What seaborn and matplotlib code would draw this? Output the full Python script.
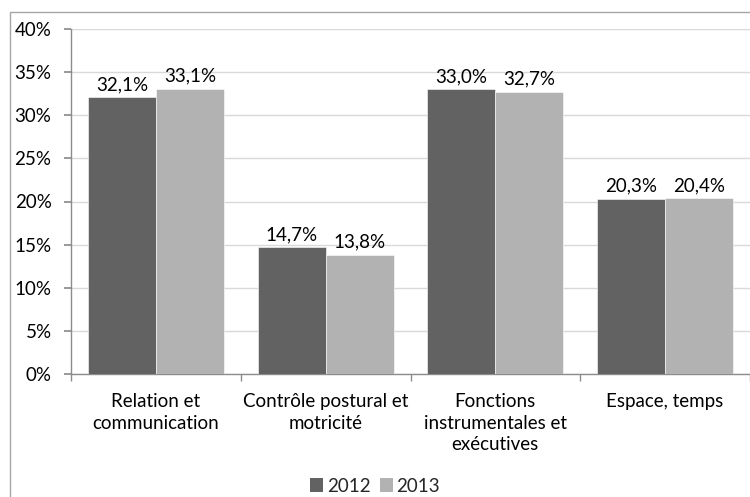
import matplotlib
matplotlib.use("Agg")
import matplotlib.pyplot as plt
import matplotlib.patches as mpatches
from matplotlib.ticker import FixedLocator, PercentFormatter
import seaborn as sns
import pandas as pd

# Data
categories = [
    "Relation et\ncommunication",
    "Contrôle postural et\nmotricité",
    "Fonctions\ninstrumentales et\nexécutives",
    "Espace, temps",
]
years = ["2012", "2013"]
values_2012 = [32.1, 14.7, 33.0, 20.3]
values_2013 = [33.1, 13.8, 32.7, 20.4]
colors = {"2012": "#626262", "2013": "#b2b2b2"}

df = pd.DataFrame({
    "categorie": categories * 2,
    "annee": ["2012"] * 4 + ["2013"] * 4,
    "valeur": values_2012 + values_2013,
})

sns.set_theme(style="white")
plt.rcParams["font.family"] = ["Lato", "DejaVu Sans"]
FS = 13.5

fig = plt.figure(figsize=(7.5, 4.97), dpi=100)
ax = fig.add_axes([71 / 750, 1 - 374 / 497, 1 - 71 / 750, (374 - 29) / 497])

sns.barplot(data=df, x="categorie", y="valeur", hue="annee", hue_order=years,
            palette=colors, width=0.8, gap=0, saturation=1, ax=ax,
            edgecolor="white", linewidth=0.4, legend=False, zorder=3)

ax.set_ylim(0, 40)
ax.set_xlim(-0.5, 3.5)
ax.set_yticks(range(0, 41, 5))
ax.yaxis.set_major_formatter(PercentFormatter(decimals=0))
ax.grid(axis="y", color="#d9d9d9", linewidth=1, zorder=0)
ax.set_xlabel("")
ax.set_ylabel("")

for side in ["top", "right"]:
    ax.spines[side].set_visible(False)
for side in ["left", "bottom"]:
    ax.spines[side].set_color("#8c8c8c")
    ax.spines[side].set_linewidth(1)

ax.tick_params(axis="y", which="major", left=True, length=5, color="#8c8c8c",
               pad=9, labelsize=FS, labelcolor="#000000")
ax.tick_params(axis="x", which="major", bottom=False, length=0, pad=14,
               labelsize=FS, labelcolor="#000000")
ax.xaxis.set_minor_locator(FixedLocator([-0.5, 0.5, 1.5, 2.5, 3.5]))
ax.tick_params(axis="x", which="minor", bottom=True, length=5, color="#8c8c8c")
for lbl in ax.get_xticklabels():
    lbl.set_linespacing(1.3)
    lbl.set_horizontalalignment("center")

# Value labels above each bar
for container, vals in zip(ax.containers, [values_2012, values_2013]):
    labels = [f"{v:.1f}%".replace(".", ",") for v in vals]
    ax.bar_label(container, labels=labels, padding=3, fontsize=FS, color="#000000")

# Legend at the bottom
handles = [mpatches.Patch(facecolor=colors[y], edgecolor="none", label=y) for y in years]
fig.legend(handles=handles, loc="center", bbox_to_anchor=(0.5, 1 - 486 / 497), ncol=2,
           frameon=False, fontsize=FS, handlelength=0.7, handleheight=0.7,
           handletextpad=0.2, columnspacing=0.5)

# Chart area border
fig.patches.append(mpatches.Rectangle((10 / 750, -0.1), 1.2, 1 - 12 / 497 + 0.1,
                                      transform=fig.transFigure, fill=False,
                                      edgecolor="#a6a6a6", linewidth=1))

fig.savefig("out.png", dpi=100, facecolor="white")
